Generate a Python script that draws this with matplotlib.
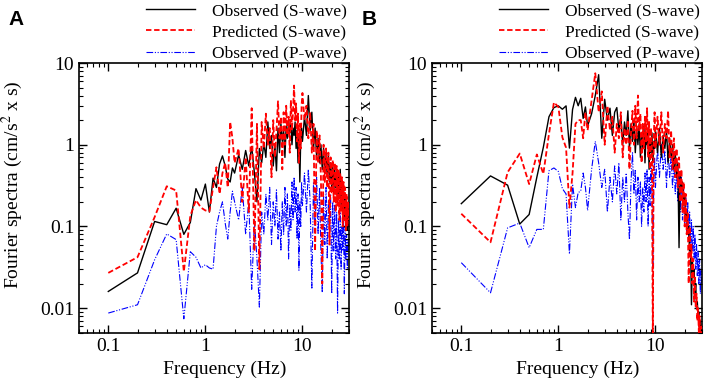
import numpy as np
import matplotlib
matplotlib.use("Agg")
import matplotlib.pyplot as plt
from matplotlib.ticker import FuncFormatter, LogLocator

plt.rcParams['font.family'] = ['Liberation Serif', 'DejaVu Serif']
plt.rcParams['mathtext.fontset'] = 'stix'

# frequency grid (Hz): 0.1 Hz steps below 2 Hz, coarser above
freq = np.round(np.concatenate([np.arange(0.1, 2.05, 0.1),
                                np.arange(2.2, 10.05, 0.2),
                                np.arange(10.5, 30.05, 0.5)]), 2)

# panel A
obs_s_a = [0.016, 0.027, 0.115, 0.105, 0.167, 0.08, 0.112, 0.29, 0.21, 0.33,
           0.15, 0.39, 0.30, 0.58, 0.73, 0.55, 0.38, 0.35, 0.52, 0.45,
           0.75, 0.5, 0.85, 0.55, 0.95, 0.45, 0.2, 0.9, 0.6, 1.05,
           0.7, 1.9, 0.9, 1.3, 0.55, 1.0, 0.48, 1.6, 0.8, 1.8,
           1.1, 1.5, 0.7, 1.7, 1.2, 2.0, 1.4, 1.8, 1.0, 1.6,
           1.3, 1.9, 0.9, 1.5, 0.6, 1.3, 0.35, 1.2, 1.6, 1.1,
           2.2, 1.3, 4.0, 1.5, 2.5, 0.9, 1.6, 0.7, 1.2, 0.6,
           1.0, 0.5, 0.9, 0.45, 0.8, 0.4, 0.75, 0.35, 0.6, 0.3,
           0.55, 0.25, 0.5, 0.3, 0.45, 0.2, 0.4, 0.25, 0.5, 0.18,
           0.35, 0.15, 0.3, 0.12, 0.25, 0.1, 0.2, 0.09, 0.18, 0.1]
pred_s_a = [0.027, 0.042, 0.13, 0.31, 0.275, 0.028, 0.135, 0.21, 0.17, 0.157,
            0.152, 0.30, 0.53, 0.25, 0.45, 0.6, 0.3, 1.9, 1.2, 0.6,
            0.9, 0.2, 0.7, 0.15, 2.8, 0.05, 1.8, 0.03, 1.9, 0.9,
            2.4, 1.0, 1.6, 0.4, 2.0, 0.7, 1.5, 3.4, 1.2, 2.2,
            0.5, 2.5, 1.0, 3.0, 1.3, 2.2, 0.8, 3.5, 1.5, 2.6,
            5.3, 2.0, 3.2, 1.1, 2.4, 0.6, 1.8, 0.9, 3.0, 4.3,
            2.0, 3.0, 1.2, 2.5, 0.8, 1.8, 0.05, 1.5, 0.6, 1.3,
            0.4, 0.02, 1.0, 0.35, 0.9, 0.3, 0.8, 0.06, 0.7, 0.25,
            0.65, 0.2, 0.6, 0.15, 0.55, 0.18, 0.5, 0.12, 0.45, 0.15,
            0.4, 0.1, 0.35, 0.12, 0.3, 0.09, 0.25, 0.1, 0.2, 0.12]
obs_p_a = [0.0087, 0.011, 0.039, 0.081, 0.069, 0.0074, 0.049, 0.042, 0.031, 0.034,
           0.031, 0.03, 0.1, 0.15, 0.2, 0.11, 0.07, 0.15, 0.27, 0.2,
           0.12, 0.3, 0.08, 0.2, 0.017, 0.12, 0.04, 0.0103, 0.15, 0.08,
           0.25, 0.12, 0.3, 0.06, 0.2, 0.1, 0.28, 0.07, 0.15, 0.05,
           0.2, 0.08, 0.3, 0.1, 0.25, 0.04, 0.18, 0.09, 0.35, 0.12,
           0.4, 0.15, 0.3, 0.07, 0.25, 0.029, 0.2, 0.1, 0.35, 0.18,
           0.45, 0.15, 0.5, 0.2, 0.0176, 0.35, 0.1, 0.4, 0.08, 0.3,
           0.05, 0.0155, 0.25, 0.06, 0.3, 0.04, 0.2, 0.1, 0.25, 0.015,
           0.2, 0.05, 0.18, 0.04, 0.15, 0.0087, 0.12, 0.04, 0.15, 0.03,
           0.1, 0.05, 0.12, 0.015, 0.1, 0.04, 0.08, 0.03, 0.07, 0.05]

# panel B
obs_s_b = [0.19, 0.415, 0.32, 0.107, 0.14, 0.40, 0.93, 2.2, 2.85, 2.99,
           2.72, 2.99, 0.91, 2.7, 3.8, 3.0, 3.7, 2.1, 2.9, 1.7,
           2.4, 4.0, 7.2, 1.2, 3.6, 2.0, 2.8, 1.3, 2.5, 2.85,
           1.5, 2.2, 1.0, 1.9, 1.3, 2.6, 0.9, 1.8, 1.1, 2.0,
           0.8, 1.6, 1.0, 1.8, 0.7, 1.4, 0.9, 1.7, 0.6, 1.3,
           1.0, 1.5, 0.5, 1.2, 0.8, 1.4, 0.6, 1.1, 0.9, 1.5,
           0.8, 1.6, 0.7, 1.3, 0.9, 1.5, 0.6, 1.2, 0.7, 1.0,
           0.5, 0.8, 0.4, 0.6, 0.055, 0.45, 0.3, 0.35, 0.2, 0.25,
           0.12, 0.15, 0.08, 0.1, 0.05, 0.06, 0.011, 0.04, 0.025, 0.03,
           0.015, 0.02, 0.01, 0.012, 0.008, 0.009, 0.006, 0.007, 0.005, 0.006]
pred_s_b = [0.143, 0.064, 0.46, 0.78, 0.33, 0.76, 0.44, 1.35, 3.3, 2.9,
            1.23, 0.92, 0.17, 0.45, 1.8, 2.0, 2.0, 1.2, 2.5, 1.5,
            3.5, 7.5, 2.5, 4.5, 1.0, 3.0, 1.5, 2.2, 0.8, 1.8,
            1.2, 2.5, 0.7, 1.6, 1.0, 2.0, 0.5, 1.4, 2.6, 1.0,
            3.0, 1.2, 4.0, 1.5, 2.4, 0.6, 1.8, 0.9, 2.2, 1.1,
            2.8, 0.7, 1.9, 0.5, 1.6, 0.8, 0.004, 1.2, 2.5, 0.9,
            2.2, 1.0, 2.5, 0.8, 1.8, 1.2, 2.6, 0.7, 1.5, 0.5,
            1.2, 0.4, 0.9, 0.3, 0.7, 0.2, 0.5, 0.15, 0.35, 0.1,
            0.25, 0.08, 0.15, 0.02, 0.1, 0.04, 0.06, 0.02, 0.04, 0.012,
            0.025, 0.01, 0.015, 0.007, 0.01, 0.005, 0.008, 0.004, 0.006, 0.005]
obs_p_b = [0.036, 0.0154, 0.096, 0.11, 0.055, 0.092, 0.092, 0.48, 0.52, 0.47,
           0.29, 0.25, 0.046, 0.33, 0.17, 0.26, 0.27, 0.45, 0.3, 0.157,
           0.5, 1.1, 0.6, 0.3, 0.5, 0.15, 0.4, 0.2, 0.55, 0.25,
           0.6, 0.12, 0.4, 0.2, 0.45, 0.15, 0.069, 0.35, 0.8, 0.25,
           0.5, 0.12, 0.4, 0.2, 0.35, 0.1, 0.3, 0.15, 0.45, 0.2,
           0.5, 0.1, 0.4, 0.18, 0.6, 0.25, 0.03, 0.4, 0.7, 0.3,
           0.9, 0.4, 1.0, 0.5, 0.85, 0.3, 0.9, 0.4, 0.7, 0.3,
           0.6, 0.25, 0.5, 0.2, 0.45, 0.15, 0.4, 0.12, 0.3, 0.1,
           0.25, 0.08, 0.2, 0.07, 0.15, 0.05, 0.12, 0.05, 0.1, 0.04,
           0.08, 0.03, 0.06, 0.025, 0.05, 0.02, 0.04, 0.015, 0.03, 0.02]

panels = [("A", obs_s_a, pred_s_a, obs_p_a), ("B", obs_s_b, pred_s_b, obs_p_b)]
lefts = [0.112, 0.612]

fig = plt.figure(figsize=(7.06, 3.82), dpi=100)

def fmt(v, pos):
    return "%g" % v

for (tag, obs_s, pred_s, obs_p), left in zip(panels, lefts):
    ax = fig.add_axes([left, 0.129, 0.382, 0.706])
    ax.plot(freq, obs_s, color='black', lw=1.0, zorder=2, label='Observed (S-wave)')
    ax.plot(freq, pred_s, color='red', lw=1.3, ls=(0, (3, 1.5)), zorder=3,
            label='Predicted (S-wave)')
    ax.plot(freq, obs_p, color='blue', lw=0.8, ls=(0, (6, 1.5, 1, 1.5, 1, 1.5)),
            zorder=1, label='Observed (P-wave)')
    ax.set_xscale('log')
    ax.set_yscale('log')
    ax.set_xlim(0.05, 30)
    ax.set_ylim(0.005, 10)
    ax.xaxis.set_major_formatter(FuncFormatter(fmt))
    ax.yaxis.set_major_formatter(FuncFormatter(fmt))
    ax.xaxis.set_minor_locator(LogLocator(base=10, subs=np.arange(2, 10)))
    ax.yaxis.set_minor_locator(LogLocator(base=10, subs=np.arange(2, 10)))
    ax.tick_params(which='both', direction='in', top=True, right=True, labelsize=14)
    ax.tick_params(which='major', length=6, width=1)
    ax.tick_params(which='minor', length=3, width=0.8)
    for s in ax.spines.values():
        s.set_linewidth(1.2)
    ax.set_xlabel('Frequency (Hz)', fontsize=14)
    ax.set_ylabel('Fourier spectra (cm/s$^2$ x s)', fontsize=14)
    ax.xaxis.set_label_coords(0.54, -0.105)
    ax.yaxis.set_label_coords(-0.2, 0.55)
    ax.legend(loc='lower right', bbox_to_anchor=(1.0, 0.998), frameon=False,
              fontsize=12.5, handlelength=2.8, handletextpad=1.0,
              labelspacing=0.3, borderaxespad=0.0, borderpad=0.1)
    fig.text(left - 0.1, 0.935, tag, fontsize=15, fontweight='bold',
             family='Liberation Sans')

fig.savefig('out.png', dpi=100)
